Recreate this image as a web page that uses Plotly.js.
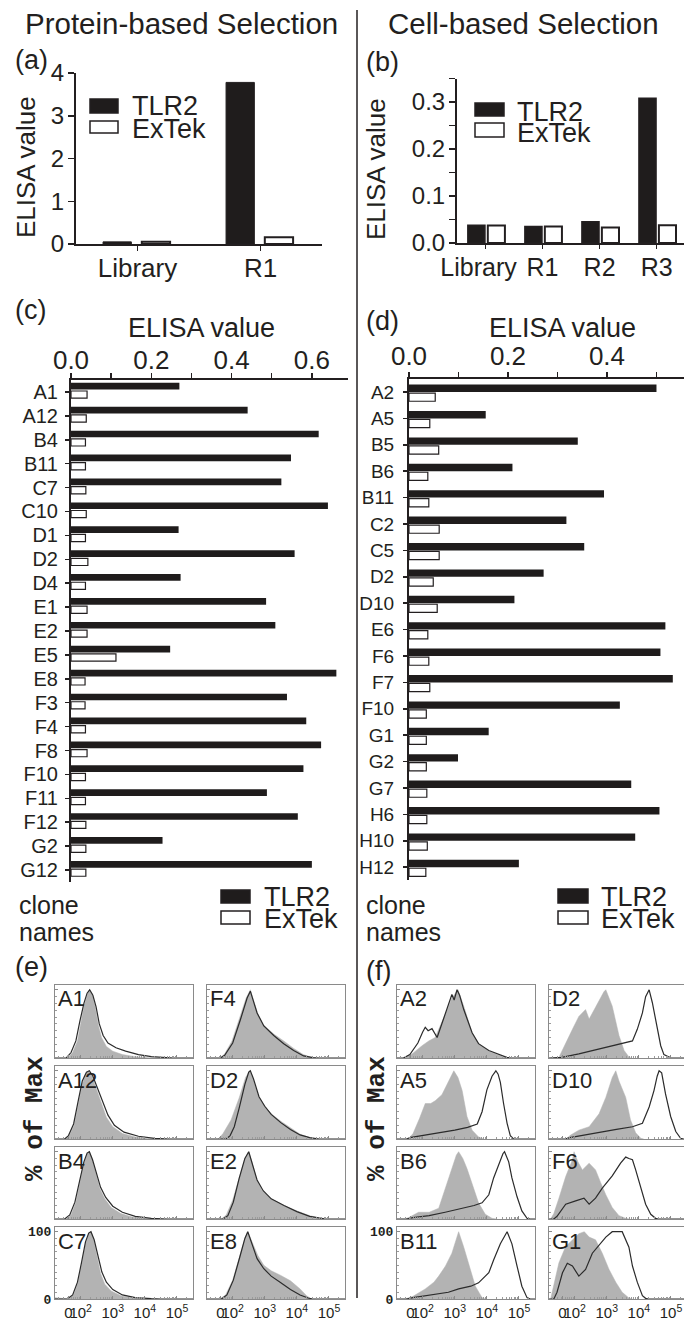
<!DOCTYPE html>
<html><head><meta charset="utf-8">
<script src="https://cdn.plot.ly/plotly-3.0.1.min.js"></script>
<style>html,body{margin:0;padding:0;background:#fff;} #chart{width:684px;height:1323px;}</style>
</head><body><div id="chart"></div>
<script>
// ---------------- data ----------------
const roundsA = ['Library', 'R1'];
const tlr2A = [0.05, 3.78];
const extekA = [0.05, 0.16];

const roundsB = ['Library', 'R1', 'R2', 'R3'];
const tickLabelsB = ['Library\u00a0\u00a0', 'R1', 'R2', 'R3'];
const tlr2B = [0.038, 0.035, 0.045, 0.308];
const extekB = [0.037, 0.035, 0.033, 0.038];

const clonesC = ['A1','A12','B4','B11','C7','C10','D1','D2','D4','E1','E2','E5','E8','F3','F4','F8','F10','F11','F12','G2','G12'];
const tlr2C = [0.270,0.440,0.617,0.548,0.524,0.640,0.268,0.557,0.273,0.486,0.509,0.247,0.661,0.538,0.586,0.623,0.579,0.488,0.565,0.228,0.600];
const extekC = [0.040,0.038,0.036,0.036,0.037,0.038,0.036,0.042,0.036,0.040,0.040,0.112,0.035,0.035,0.036,0.040,0.036,0.036,0.037,0.037,0.037];

const clonesD = ['A2','A5','B5','B6','B11','C2','C5','D2','D10','E6','F6','F7','F10','G1','G2','G7','H6','H10','H12'];
const tlr2D = [0.500,0.155,0.341,0.209,0.394,0.318,0.354,0.272,0.213,0.518,0.508,0.533,0.426,0.161,0.099,0.449,0.506,0.457,0.222];
const extekD = [0.053,0.042,0.060,0.038,0.040,0.061,0.061,0.049,0.057,0.038,0.040,0.042,0.035,0.035,0.035,0.036,0.036,0.037,0.034];

// flow histograms: [position on biexponential axis (decades), % of max]
const flowTickVals = [1.62, 2, 3, 4, 5];
const flowTickText = ['0', '10<sup>2</sup>', '10<sup>3</sup>', '10<sup>4</sup>', '10<sup>5</sup>'];

// (e) protein-based clones
const eA1Fill  = [[1.6,0],[1.75,8],[1.9,25],[2.0,50],[2.1,75],[2.2,92],[2.27,100],[2.35,95],[2.45,75],[2.55,48],[2.65,30],[2.8,17],[3.0,10],[3.3,5],[3.7,2],[4.1,0.5],[4.5,0]];
const eA1Line  = [[1.2,0],[1.55,0],[1.7,8],[1.85,25],[1.98,55],[2.1,80],[2.2,95],[2.28,100],[2.38,92],[2.48,75],[2.58,50],[2.7,33],[2.85,22],[3.1,15],[3.4,10],[3.8,5],[4.2,2],[4.6,0.5],[4.9,0],[5.5,0]];
const eA12Fill = [[1.5,0],[1.65,5],[1.8,20],[1.95,55],[2.05,80],[2.15,95],[2.25,100],[2.35,92],[2.5,72],[2.65,50],[2.8,32],[3.0,18],[3.3,8],[3.7,3],[4.2,0.5],[4.6,0]];
const eA12Line = [[1.2,0],[1.5,0],[1.62,5],[1.78,22],[1.92,55],[2.05,85],[2.18,98],[2.27,100],[2.38,92],[2.52,75],[2.68,55],[2.85,35],[3.05,20],[3.35,10],[3.8,4],[4.3,1],[4.8,0],[5.5,0]];
const eB4Fill  = [[1.55,0],[1.7,6],[1.85,25],[1.98,55],[2.1,82],[2.2,97],[2.27,100],[2.35,90],[2.48,65],[2.6,45],[2.75,30],[2.95,17],[3.25,8],[3.6,3],[4.1,0.5],[4.5,0]];
const eB4Line  = [[1.2,0],[1.5,0],[1.66,6],[1.82,25],[1.96,55],[2.1,85],[2.2,98],[2.27,100],[2.37,88],[2.5,66],[2.62,47],[2.78,32],[3.0,19],[3.3,10],[3.7,4],[4.2,1],[4.7,0],[5.5,0]];
const eC7Fill  = [[1.2,2],[1.4,1],[1.6,0],[1.78,6],[1.92,25],[2.05,55],[2.15,82],[2.25,97],[2.32,100],[2.4,88],[2.52,60],[2.62,38],[2.75,22],[2.95,12],[3.25,5],[3.6,2],[4.0,0]];
const eC7Line  = [[1.2,0],[1.58,0],[1.75,6],[1.9,25],[2.03,55],[2.15,85],[2.25,98],[2.32,100],[2.42,88],[2.54,62],[2.66,40],[2.8,25],[3.0,14],[3.3,6],[3.7,2],[4.2,0.5],[4.5,0],[5.5,0]];
const eF4Fill  = [[1.6,0],[1.75,6],[1.98,25],[2.22,58],[2.42,88],[2.55,100],[2.65,85],[2.78,65],[2.97,48],[3.28,35],[3.59,25],[3.9,14],[4.2,5],[4.45,1],[4.6,0]];
const eF4Line  = [[1.2,0],[1.62,0],[1.75,4],[2.0,22],[2.24,56],[2.45,88],[2.55,98],[2.62,88],[2.76,66],[2.97,47],[3.28,33],[3.59,21],[3.9,11],[4.21,3],[4.5,0.5],[4.7,0],[5.5,0]];
const eD2Fill  = [[1.55,0],[1.7,8],[1.95,28],[2.2,60],[2.4,90],[2.53,100],[2.62,90],[2.8,63],[3.0,48],[3.2,37],[3.5,26],[3.8,16],[4.1,7],[4.4,2],[4.6,0]];
const eD2Line  = [[1.2,0],[1.8,0],[1.92,5],[2.05,18],[2.2,45],[2.38,80],[2.5,98],[2.55,100],[2.65,88],[2.82,62],[3.0,48],[3.2,36],[3.5,24],[3.8,14],[4.1,6],[4.4,2],[4.7,0],[5.5,0]];
const eE2Fill  = [[1.65,0],[1.8,6],[2.0,28],[2.2,62],[2.38,90],[2.5,100],[2.6,85],[2.75,58],[2.92,42],[3.2,30],[3.6,20],[4.0,12],[4.4,5],[4.75,1],[4.9,0]];
const eE2Line  = [[1.2,0],[1.7,0],[1.85,5],[2.02,25],[2.2,60],[2.38,90],[2.5,100],[2.6,84],[2.76,58],[2.95,42],[3.2,30],[3.6,20],[4.0,11],[4.4,4],[4.7,1],[4.9,0],[5.5,0]];
const eE8Fill  = [[1.6,0],[1.78,6],[2.0,28],[2.2,62],[2.38,90],[2.47,100],[2.58,88],[2.78,65],[2.97,50],[3.2,42],[3.5,35],[3.8,27],[4.1,15],[4.3,5],[4.45,0]];
const eE8Line  = [[1.2,0],[1.65,0],[1.82,6],[2.02,28],[2.22,62],[2.38,90],[2.47,100],[2.58,86],[2.76,60],[2.97,45],[3.2,34],[3.5,24],[3.8,14],[4.1,6],[4.35,1.5],[4.5,0],[5.5,0]];

// (f) cell-based clones
const fA2Fill  = [[1.4,0],[1.67,6],[1.98,18],[2.19,25],[2.39,30],[2.6,52],[2.81,76],[2.91,88],[3.02,95],[3.1,100],[3.28,76],[3.54,37],[3.74,21],[4.06,10],[4.37,4],[4.68,0]];
const fA2Line  = [[1.2,0],[1.4,0],[1.6,5],[1.85,22],[2.0,38],[2.08,45],[2.17,40],[2.29,43],[2.45,30],[2.6,50],[2.75,70],[2.91,93],[2.98,85],[3.07,100],[3.15,92],[3.28,71],[3.54,37],[3.74,21],[4.06,11],[4.37,5],[4.62,1],[4.75,0],[5.5,0]];
const fA5Fill  = [[1.55,0],[1.7,8],[1.9,30],[2.08,52],[2.25,52],[2.39,56],[2.6,65],[2.81,85],[2.97,100],[3.1,90],[3.23,71],[3.38,33],[3.54,13],[3.74,3],[3.9,0]];
const fA5Line  = [[1.2,0],[1.5,0],[1.6,2],[2.0,5],[2.5,9],[3.0,13],[3.4,17],[3.7,22],[3.85,40],[4.0,72],[4.16,92],[4.28,100],[4.35,95],[4.42,83],[4.52,52],[4.63,23],[4.73,5],[4.83,0],[5.5,0]];
const fB6Fill  = [[1.45,0],[1.6,3],[1.87,10],[2.2,10],[2.5,16],[2.71,46],[2.91,75],[3.05,95],[3.12,100],[3.25,90],[3.38,75],[3.59,46],[3.74,24],[3.95,7],[4.16,1],[4.3,0]];
const fB6Line  = [[1.2,0],[1.5,0],[1.7,2],[2.2,5],[2.7,10],[3.2,15],[3.6,20],[3.85,24],[4.06,36],[4.21,61],[4.37,82],[4.5,97],[4.55,100],[4.68,85],[4.78,61],[4.94,33],[5.09,12],[5.25,1],[5.35,0],[5.5,0]];
const fB11Fill = [[1.45,0],[1.7,4],[2.08,15],[2.35,25],[2.5,34],[2.71,49],[2.91,68],[3.05,92],[3.12,100],[3.28,77],[3.48,44],[3.64,19],[3.85,2],[3.95,0]];
const fB11Line = [[1.2,0],[1.5,0],[1.7,2],[2.3,6],[2.8,10],[3.12,15],[3.5,19],[3.74,24],[4.06,39],[4.21,58],[4.42,82],[4.63,100],[4.78,82],[4.94,49],[5.09,19],[5.25,2],[5.35,0],[5.5,0]];
const fD2Fill  = [[1.5,0],[1.58,8],[1.72,23],[1.93,42],[2.13,61],[2.34,71],[2.45,57],[2.55,66],[2.76,85],[2.91,97],[2.97,100],[3.17,76],[3.38,33],[3.54,11],[3.69,1.5],[3.75,0]];
const fD2Line  = [[1.2,0],[1.5,0],[1.6,1],[2.13,6],[2.76,13],[3.38,21],[3.8,25],[3.95,42],[4.11,66],[4.21,90],[4.32,100],[4.42,81],[4.57,42],[4.68,18],[4.78,5],[4.94,0.5],[5.0,0],[5.45,0]];
const fD10Fill = [[1.75,0],[1.85,5],[2.13,13],[2.45,18],[2.76,37],[2.97,61],[3.17,90],[3.28,100],[3.38,85],[3.59,61],[3.74,28],[3.9,9],[4.06,1],[4.15,0]];
const fD10Line = [[1.2,0],[1.7,0],[1.85,2],[2.3,6],[2.8,10],[3.3,14],[3.8,18],[4.11,23],[4.32,47],[4.47,71],[4.57,92],[4.63,100],[4.71,97],[4.83,66],[4.99,33],[5.15,11],[5.3,1],[5.4,0]];
const fF6Fill  = [[1.25,0],[1.35,8],[1.51,31],[1.72,63],[1.93,88],[1.98,100],[2.1,85],[2.24,73],[2.45,83],[2.65,73],[2.81,54],[2.97,36],[3.17,17],[3.38,5],[3.59,1],[3.7,0]];
const fF6Line  = [[1.2,0],[1.35,0],[1.45,4],[1.72,22],[2.03,27],[2.29,31],[2.45,22],[2.65,31],[2.86,46],[3.17,64],[3.43,83],[3.59,92],[3.69,90],[3.8,88],[3.9,73],[4.06,46],[4.21,22],[4.37,7],[4.52,1],[4.6,0],[5.45,0]];
const fG1Fill  = [[1.25,0],[1.35,20],[1.51,54],[1.72,78],[1.93,87],[2.13,97],[2.3,100],[2.45,92],[2.65,88],[2.86,68],[3.07,44],[3.28,25],[3.48,10],[3.69,1.5],[3.8,0]];
const fG1Line  = [[1.2,0],[1.35,0],[1.45,10],[1.62,39],[1.77,53],[1.93,49],[2.13,34],[2.34,44],[2.55,68],[2.81,82],[2.97,92],[3.17,100],[3.48,100],[3.69,77],[3.8,49],[3.95,25],[4.11,5],[4.21,1],[4.3,0],[5.45,0]];

const flowPanelsE = [
  ['A1', eA1Fill, eA1Line], ['A12', eA12Fill, eA12Line], ['B4', eB4Fill, eB4Line], ['C7', eC7Fill, eC7Line],
  ['F4', eF4Fill, eF4Line], ['D2', eD2Fill, eD2Line], ['E2', eE2Fill, eE2Line], ['E8', eE8Fill, eE8Line]
];
const flowPanelsF = [
  ['A2', fA2Fill, fA2Line], ['A5', fA5Fill, fA5Line], ['B6', fB6Fill, fB6Line], ['B11', fB11Fill, fB11Line],
  ['D2', fD2Fill, fD2Line], ['D10', fD10Fill, fD10Line], ['F6', fF6Fill, fF6Line], ['G1', fG1Fill, fG1Line]
];

// ---------------- layout helpers ----------------
const W = 684, H = 1323;
const px = v => v / W;
const py = v => 1 - v / H;
const INK = '#231f20';
const SANS = 'Liberation Sans, Arial, Helvetica, sans-serif';
const MONO = 'Liberation Mono, Courier New, monospace';

const traces = [];
const layout = {
  width: W, height: H,
  margin: {l: 0, r: 0, t: 0, b: 0},
  paper_bgcolor: '#fff', plot_bgcolor: 'rgba(0,0,0,0)',
  showlegend: false,
  barmode: 'overlay',
  font: {family: SANS, color: INK},
  annotations: [], shapes: []
};

function ann(text, x, y, o) {
  layout.annotations.push(Object.assign({
    text: text, x: px(x), y: py(y), xref: 'paper', yref: 'paper',
    showarrow: false, xanchor: 'center', yanchor: 'middle',
    font: {family: SANS, size: 24, color: INK}
  }, o || {}));
}
function rect(x0, y0, x1, y1, fill) {
  layout.shapes.push({type: 'rect', xref: 'paper', yref: 'paper',
    x0: px(x0), x1: px(x1), y0: py(y1), y1: py(y0),
    fillcolor: fill, line: {color: INK, width: 1.5}});
}

const axBase = {showgrid: false, zeroline: false, showline: true, linecolor: INK, linewidth: 2,
  ticks: 'outside', tickcolor: INK, tickwidth: 1.5, tickangle: 0, fixedrange: true};

// ---- (a) ----
layout.xaxis = Object.assign({}, axBase, {domain: [px(76), px(322)], anchor: 'y', type: 'category',
  range: [-0.5, 1.5], ticklen: 5, tickfont: {size: 26}, ticklabelstandoff: -5});
layout.yaxis = Object.assign({}, axBase, {domain: [py(244), py(73)], anchor: 'x', range: [0, 4],
  tickvals: [0, 1, 2, 3, 4], ticklen: 6, tickfont: {size: 24}, ticklabelstandoff: -1});
traces.push({type: 'bar', x: roundsA, y: tlr2A, xaxis: 'x', yaxis: 'y', width: 0.23, offset: -0.28,
  marker: {color: '#1f1c1c', line: {color: INK, width: 1}}});
traces.push({type: 'bar', x: roundsA, y: extekA, xaxis: 'x', yaxis: 'y', width: 0.23, offset: 0.035,
  marker: {color: '#fff', line: {color: INK, width: 2}}});

// ---- (b) ----
layout.xaxis2 = Object.assign({}, axBase, {domain: [px(457), 1], anchor: 'y2', type: 'category',
  range: [-0.5, 3.48], ticklen: 4, tickfont: {size: 25}, ticklabelstandoff: -3,
  tickmode: 'array', tickvals: roundsB, ticktext: tickLabelsB});
layout.yaxis2 = Object.assign({}, axBase, {domain: [py(243), py(78.5)], anchor: 'x2', range: [0, 0.35],
  dtick: 0.1, tickformat: '.1f', ticklen: 6, tickfont: {size: 24}, ticklabelstandoff: -1,
  minor: {dtick: 0.05, ticks: 'outside', ticklen: 6, tickcolor: INK, tickwidth: 1.5}});
traces.push({type: 'bar', x: roundsB, y: tlr2B, xaxis: 'x2', yaxis: 'y2', width: 0.30, offset: -0.31,
  marker: {color: '#1f1c1c', line: {color: INK, width: 1.5}}});
traces.push({type: 'bar', x: roundsB, y: extekB, xaxis: 'x2', yaxis: 'y2', width: 0.30, offset: 0.04,
  marker: {color: '#fff', line: {color: INK, width: 2}}});

// ---- (c) ----
layout.xaxis3 = Object.assign({}, axBase, {domain: [px(71), px(348)], anchor: 'y3', side: 'top',
  range: [0, 0.69], dtick: 0.2, tickformat: '.1f', ticklen: 5, tickfont: {size: 26}, ticklabelstandoff: -6,
  minor: {dtick: 0.1, ticks: 'outside', ticklen: 5, tickcolor: INK, tickwidth: 1.5}});
layout.yaxis3 = Object.assign({}, axBase, {domain: [py(882), py(380)], anchor: 'x3', type: 'category',
  tickmode: 'linear', tick0: 0, dtick: 1,
  range: [20.5, -0.5], ticklen: 4, tickfont: {size: 20}, ticklabelstandoff: 3});
traces.push({type: 'bar', orientation: 'h', y: clonesC, x: tlr2C, xaxis: 'x3', yaxis: 'y3',
  width: 0.28, offset: -0.38, marker: {color: '#1f1c1c', line: {width: 0}}});
traces.push({type: 'bar', orientation: 'h', y: clonesC, x: extekC, xaxis: 'x3', yaxis: 'y3',
  width: 0.30, offset: -0.04, marker: {color: '#fff', line: {color: INK, width: 1.2}}});

// ---- (d) ----
layout.xaxis4 = Object.assign({}, axBase, {domain: [px(409), 1], anchor: 'y4', side: 'top',
  range: [0, 0.5556], dtick: 0.2, tickformat: '.1f', ticklen: 5, tickfont: {size: 26}, ticklabelstandoff: -4,
  minor: {dtick: 0.1, ticks: 'outside', ticklen: 5, tickcolor: INK, tickwidth: 1.5}});
layout.yaxis4 = Object.assign({}, axBase, {domain: [py(880.4), py(378.8)], anchor: 'x4', type: 'category',
  tickmode: 'linear', tick0: 0, dtick: 1,
  range: [18.5, -0.5], ticklen: 4, tickfont: {size: 19}, ticklabelstandoff: 5});
traces.push({type: 'bar', orientation: 'h', y: clonesD, x: tlr2D, xaxis: 'x4', yaxis: 'y4',
  width: 0.28, offset: -0.28, marker: {color: '#1f1c1c', line: {width: 0}}});
traces.push({type: 'bar', orientation: 'h', y: clonesD, x: extekD, xaxis: 'x4', yaxis: 'y4',
  width: 0.31, offset: 0.04, marker: {color: '#fff', line: {color: INK, width: 1.2}}});

// ---- (e), (f) flow histograms ----
const colsX = [[55, 193], [207, 345], [397, 535], [549, 684]];
const rowsY = [[985, 1058], [1066, 1139], [1147, 1219], [1227, 1299]];
const PXU = 32.1; // px per decade
const minorVals = [];
for (let d = 1; d <= 5; d++) for (let k = 2; k <= 9; k++) minorVals.push(d + Math.log10(k));

let axN = 5;
function addFlow(panel, col, row) {
  const [name, fill, line] = panel;
  const [x0, x1] = colsX[col];
  const [y0, y1] = rowsY[row];
  const xa = 'xaxis' + axN, ya = 'yaxis' + axN;
  const xr = 'x' + axN, yr = 'y' + axN;
  const bottom = row === 3, leftEdge = (col === 0 || col === 2) && row === 3;
  layout[xa] = {domain: [px(x0), px(x1)], anchor: yr, range: [1.2, 1.2 + (x1 - x0) / PXU],
    showgrid: false, zeroline: false, showline: true, mirror: true, linecolor: '#8a8a8a', linewidth: 1,
    ticks: 'inside', ticklen: 3, tickcolor: '#8a8a8a', tickvals: flowTickVals, ticktext: flowTickText,
    showticklabels: bottom, tickangle: 0, tickfont: {family: SANS, size: 15, color: INK},
    minor: {tickvals: minorVals, ticks: 'inside', ticklen: 2, tickcolor: '#9a9a9a'}, fixedrange: true};
  layout[ya] = {domain: [py(y1), py(y0)], anchor: xr, range: [0, 107],
    showgrid: false, zeroline: false, showline: true, mirror: true, linecolor: '#8a8a8a', linewidth: 1,
    ticks: 'inside', ticklen: 3, tickcolor: '#8a8a8a', tickvals: [0, 100], ticktext: ['0', '100'],
    showticklabels: leftEdge, tickfont: {family: MONO, size: 13, color: INK, weight: 700},
    minor: {dtick: 10, ticks: 'inside', ticklen: 2, tickcolor: '#9a9a9a'}, fixedrange: true};
  traces.push({type: 'scatter', mode: 'lines', x: fill.map(p => p[0]), y: fill.map(p => p[1]),
    xaxis: xr, yaxis: yr, fill: 'tozeroy', fillcolor: '#b3b3b3', line: {color: '#b3b3b3', width: 0.5}, hoverinfo: 'skip'});
  traces.push({type: 'scatter', mode: 'lines', x: line.map(p => p[0]), y: line.map(p => p[1]),
    xaxis: xr, yaxis: yr, line: {color: '#2b2b2b', width: 1.2}, hoverinfo: 'skip'});
  ann(name, x0 + 1, y0 + 14, {xanchor: 'left', font: {family: SANS, size: 22, color: INK}});
  axN++;
}
flowPanelsE.forEach((p, i) => addFlow(p, i < 4 ? 0 : 1, i % 4));
flowPanelsF.forEach((p, i) => addFlow(p, i < 4 ? 2 : 3, i % 4));

// ---------------- text & decorations ----------------
ann('Protein-based Selection', 181, 23, {font: {family: SANS, size: 29.5, color: INK}});
ann('Cell-based Selection', 523, 24, {font: {family: SANS, size: 29.5, color: INK}});
ann('(a)', 13, 60, {xanchor: 'left', font: {family: SANS, size: 27, color: INK}});
ann('(b)', 364, 62, {xanchor: 'left', font: {family: SANS, size: 27, color: INK}});
ann('(c)', 13, 310, {xanchor: 'left', font: {family: SANS, size: 27, color: INK}});
ann('(d)', 364, 321, {xanchor: 'left', font: {family: SANS, size: 27, color: INK}});
ann('(e)', 13, 967, {xanchor: 'left', font: {family: SANS, size: 27, color: INK}});
ann('(f)', 364, 971, {xanchor: 'left', font: {family: SANS, size: 27, color: INK}});

ann('ELISA value', 26, 167, {textangle: -90, font: {family: SANS, size: 26, color: INK}});
ann('ELISA value', 376, 169, {textangle: -90, font: {family: SANS, size: 26, color: INK}});
ann('ELISA value', 201, 328, {font: {family: SANS, size: 27, color: INK}});
ann('ELISA value', 562, 328, {font: {family: SANS, size: 27, color: INK}});

ann('clone', 17, 905, {xanchor: 'left', font: {family: SANS, size: 25, color: INK}});
ann('names', 17, 932, {xanchor: 'left', font: {family: SANS, size: 25, color: INK}});
ann('clone', 364, 905, {xanchor: 'left', font: {family: SANS, size: 25, color: INK}});
ann('names', 364, 932, {xanchor: 'left', font: {family: SANS, size: 25, color: INK}});

ann('% of Max', 35, 1119, {textangle: -90, font: {family: MONO, size: 26, color: INK, weight: 700}});
ann('% of Max', 377, 1119, {textangle: -90, font: {family: MONO, size: 26, color: INK, weight: 700}});

// legends
const legends = [
  {x0: 90, x1: 118, y: [99, 113, 121, 133], tx: 130, ty: [106, 129], fs: 27},
  {x0: 475, x1: 504, y: [103, 116, 123, 137], tx: 515, ty: [112, 133], fs: 27},
  {x0: 221, x1: 250, y: [890, 903, 911, 924], tx: 262, ty: [897, 919], fs: 27},
  {x0: 558, x1: 588, y: [889, 903, 911, 924], tx: 599, ty: [897, 919], fs: 27}
];
legends.forEach(l => {
  rect(l.x0, l.y[0], l.x1, l.y[1], '#1f1c1c');
  rect(l.x0, l.y[2], l.x1, l.y[3], '#ffffff');
  ann('TLR2', l.tx, l.ty[0], {xanchor: 'left', font: {family: SANS, size: l.fs, color: INK}});
  ann('ExTek', l.tx, l.ty[1], {xanchor: 'left', font: {family: SANS, size: l.fs, color: INK}});
});

// divider
layout.shapes.push({type: 'line', xref: 'paper', yref: 'paper', x0: px(357), x1: px(357),
  y0: py(10), y1: py(1298), line: {color: INK, width: 1.5}});

Plotly.newPlot('chart', traces, layout, {staticPlot: true, displayModeBar: false});
</script>
</body></html>
